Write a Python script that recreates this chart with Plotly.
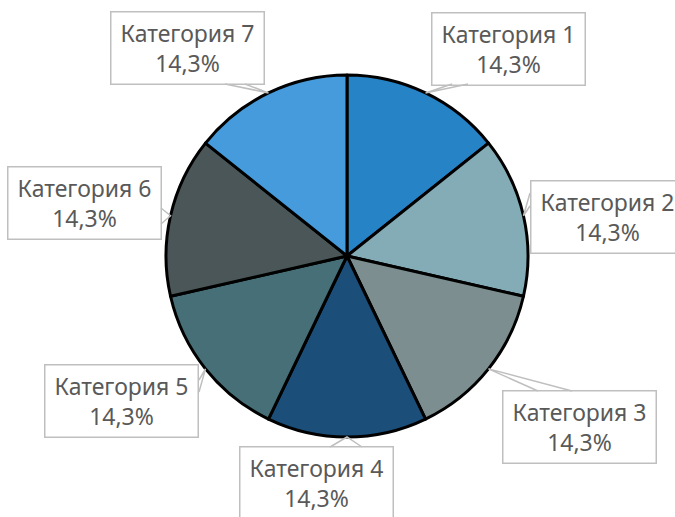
import math
import plotly.graph_objects as go

categories = ["Категория 1", "Категория 2", "Категория 3", "Категория 4",
              "Категория 5", "Категория 6", "Категория 7"]
values = [1, 1, 1, 1, 1, 1, 1]
pct_labels = ["14,3%"] * 7
colors = ["#2683C6", "#84ACB6", "#7C8E8F", "#1B4E79", "#466F78", "#4A5657", "#459BDB"]

W, H = 675, 517
CX, CY, R = 347, 256, 181

# label box centers (px) and wedge base points (px)
box_centers = [(508, 48.5), (607, 217), (579, 427), (316, 483),
               (121, 401), (84.5, 203.5), (187.5, 48)]
wedge_bases = [((452, 84), (468, 84)), ((530, 193), (530, 206)),
               ((538, 391), (572, 391)), ((330, 447), (362, 447)),
               ((199, 392), (199, 380)), ((161, 208), (161, 224)),
               ((225, 84), (245, 84))]

def px(x):
    return x / W

def py(y):
    return 1 - y / H

fig = go.Figure()
fig.add_trace(go.Pie(
    labels=categories, values=values, sort=False, direction="clockwise",
    rotation=0, textinfo="none", hoverinfo="label+percent",
    marker=dict(colors=colors, line=dict(color="#000000", width=3)),
    domain=dict(x=[(CX - R) / W, (CX + R) / W], y=[py(CY + R), py(CY - R)]),
    showlegend=False,
))

total = sum(values)
cum = 0
shapes = []
annotations = []
for i, v in enumerate(values):
    mid = cum + v / 2
    cum += v
    ang = math.radians(90 - 360 * mid / total)
    tx, ty = CX + R * math.cos(ang), CY - R * math.sin(ang)
    (b1x, b1y), (b2x, b2y) = wedge_bases[i]
    shapes.append(dict(
        type="path", xref="paper", yref="paper",
        path=f"M {px(b1x)} {py(b1y)} L {px(tx)} {py(ty)} L {px(b2x)} {py(b2y)}",
        line=dict(color="#BFBFBF", width=1.5),
    ))
    bx, by = box_centers[i]
    annotations.append(dict(
        x=px(bx), y=py(by), xref="paper", yref="paper",
        xanchor="center", yanchor="middle", showarrow=False,
        text=f"{categories[i]}<br>{pct_labels[i]}",
        font=dict(family="Noto Sans", size=23, color="#595959"),
        width=146, height=65, borderpad=3, borderwidth=1.5,
        bordercolor="#BFBFBF", bgcolor="rgba(255,255,255,0)", align="center",
    ))

fig.update_layout(
    width=W, height=H, margin=dict(l=0, r=0, t=0, b=0),
    paper_bgcolor="white", plot_bgcolor="white",
    shapes=shapes, annotations=annotations,
)

fig.write_html(
    "out.html",
    config={"displayModeBar": False},
    post_script="document.body.style.margin='0';document.body.style.overflow='hidden';",
)
